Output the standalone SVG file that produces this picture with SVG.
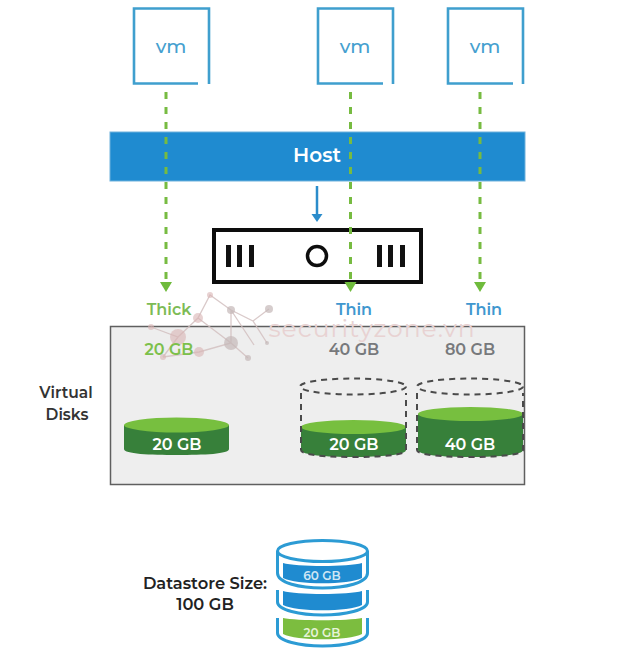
<svg xmlns="http://www.w3.org/2000/svg" width="622" height="653" viewBox="0 0 622 653">
<style>
text{font-family:"Montserrat","Open Sans","Noto Sans",sans-serif;font-weight:600;text-anchor:middle}
.vmb{fill:none;stroke:#3f9fce;stroke-width:2.6}
.vmt{font-size:19px;font-weight:500;fill:#45a0cf}
.dash{stroke:#77bb41;stroke-width:3;stroke-dasharray:7 8;fill:none}
.head{fill:#6fbb3c}
.lab{font-size:16px}
.lab2{font-size:15.500px}
.gb{font-size:16px;fill:#77797c}
.wl{fill:#fff;font-size:16px}
.cb{fill:#37803a}.ct{fill:#77bf3f}
.ds{fill:none;stroke:#4a4a4a;stroke-width:2;stroke-dasharray:6 5}
.wm{fill:#d9b4b4;opacity:.6}
.wg{fill:#c4b8b8;opacity:.7}
.wml{stroke:#d2c0c0;stroke-width:1.300;fill:none;opacity:.85}
.bk{fill:#111}
.dsk{fill:none;stroke:#2c9bd4;stroke-width:3}
</style>
<rect width="622" height="653" fill="#fff"/>
<g id="virtual-disks-panel">
<rect x="110.500" y="326.500" width="414" height="158" fill="#eeeeee" stroke="#5f5f5f" stroke-width="1.500"/>
<text x="66" y="398" class="lab2" fill="#333">Virtual</text>
<text x="67" y="420" class="lab2" fill="#333">Disks</text>
</g>
<g id="watermark">
<path class="wml" d="M151 327L178 337L198 318L210 295L231 310L231 343L199 352L163 357M198 318L231 343L248 358M231 310L254 345M231 310L253 321L269 309M253 321L267 343M178 337L163 357"/>
<circle class="wm" cx="210" cy="295" r="3"/><circle class="wm" cx="198" cy="318" r="5"/><circle class="wg" cx="231" cy="310" r="4"/><circle class="wg" cx="269" cy="309" r="4"/><circle class="wm" cx="151" cy="327" r="3"/><circle class="wm" cx="178" cy="337" r="8"/><circle class="wg" cx="231" cy="343" r="7"/><circle class="wm" cx="199" cy="352" r="5"/><circle class="wm" cx="163" cy="357" r="3"/><circle class="wg" cx="248" cy="358" r="3"/><circle class="wg" cx="267" cy="343" r="2"/>
<text x="372" y="337" font-size="25" style="font-weight:400;letter-spacing:1px" fill="#e8d2d2">securityzone.vn</text>
</g>
<g id="vm1"><path class="vmb" d="M198 83.500H134V8.500H209V84"/><text x="171" y="53" class="vmt">vm</text></g>
<g id="vm2"><path class="vmb" d="M383 83.500H318V8.500H393V84"/><text x="355" y="53" class="vmt">vm</text></g>
<g id="vm3"><path class="vmb" d="M513 83.500H448V8.500H523V84"/><text x="485" y="53" class="vmt">vm</text></g>
<g id="host"><rect x="110" y="132" width="415" height="49" fill="#1f8bd0" stroke="#6fb1dc" stroke-width="1"/><text x="317" y="162" font-size="20" fill="#fff">Host</text></g>
<g id="server">
<rect x="214" y="230" width="207" height="52" fill="#fff" stroke="#0d0d0d" stroke-width="4"/>
<rect class="bk" x="226" y="245" width="5" height="22"/><rect class="bk" x="237" y="245" width="5" height="22"/><rect class="bk" x="249" y="245" width="5" height="22"/>
<circle cx="317" cy="256" r="9.500" fill="none" stroke="#0d0d0d" stroke-width="3.500"/>
<rect class="bk" x="377" y="245" width="5" height="22"/><rect class="bk" x="388" y="245" width="5" height="22"/><rect class="bk" x="400" y="245" width="5" height="22"/>
</g>
<g id="connectors">
<path class="dash" d="M166 92V282"/><path class="dash" d="M350.500 92V282"/><path class="dash" d="M480 92V282"/>
<path class="head" d="M160 282H172L166 292Z"/><path class="head" d="M344.500 282H356.500L350.500 292Z"/><path class="head" d="M474 282H486L480 292Z"/>
<path d="M317 186V216" stroke="#2b8ccb" stroke-width="2.500" fill="none"/><path d="M311.500 214H322.500L317 222Z" fill="#2b8ccb"/>
</g>
<g id="label-thick"><text x="169" y="315" class="lab" fill="#7dbb55">Thick</text><text x="169" y="355" class="lab" fill="#7cc04b">20 GB</text></g>
<g id="label-thin1"><text x="354" y="315" class="lab" fill="#3f97cf">Thin</text><text x="354" y="355" class="gb">40 GB</text></g>
<g id="label-thin2"><text x="484" y="315" class="lab" fill="#3f97cf">Thin</text><text x="470" y="355" class="gb">80 GB</text></g>
<g id="disk-thick">
<path class="cb" d="M124 425V449C124 454 150 455 177 455C204 455 229 454 229 449V425Z"/>
<ellipse class="ct" cx="176.500" cy="425" rx="52.500" ry="7.500"/>
<text x="177" y="450" class="wl">20 GB</text>
</g>
<g id="disk-thin1">
<path class="cb" d="M301 427V450C301 455 326 457 353 457C380 457 406 455 406 450V427Z"/>
<ellipse class="ct" cx="353.500" cy="427" rx="52.500" ry="7"/>
<ellipse class="ds" cx="353" cy="386.500" rx="53" ry="8"/>
<path class="ds" d="M301 393V450C301 455 326 457 353 457C380 457 406 455 406 450V393"/>
<text x="354" y="450" class="wl">20 GB</text>
</g>
<g id="disk-thin2">
<path class="cb" d="M418 414V450C418 455 443 457 470 457C497 457 523 455 523 450V414Z"/>
<ellipse class="ct" cx="470.500" cy="414" rx="52.500" ry="7"/>
<ellipse class="ds" cx="470" cy="386.500" rx="53" ry="8"/>
<path class="ds" d="M417 393V450C417 455 443 457 470 457C497 457 523 455 523 450V393"/>
<text x="470" y="450" class="wl">40 GB</text>
</g>
<g id="datastore">
<text x="205" y="589" font-size="16.300" fill="#222">Datastore Size:</text>
<text x="205" y="610" font-size="16.300" fill="#222">100 GB</text>
<ellipse class="dsk" cx="322.500" cy="551" rx="45" ry="10.500"/>
<path class="dsk" d="M277.500 551V573C277.500 583 300 588 322.500 588C345 588 367.500 583 367.500 573V551M277.500 590V602C277.500 610 300 615 322.500 615C345 615 367.500 610 367.500 602V590M277.500 618V633C277.500 641 300 646 322.500 646C345 646 367.500 641 367.500 633V618"/>
<path d="M283 563C296 567 349 567 362 563V578C349 585 296 585 283 578Z" fill="#1f8bd0"/>
<path d="M283 591C296 595 349 595 362 591V605C349 612 296 612 283 605Z" fill="#1f8bd0"/>
<path d="M283 618C296 621 349 621 362 618V634C349 641 296 641 283 634Z" fill="#7cbd3f"/>
<text x="322" y="580" font-size="12" fill="#cfe6f5">60 GB</text>
<text x="322" y="637" font-size="12" fill="#e6f3d8">20 GB</text>
</g>
</svg>
